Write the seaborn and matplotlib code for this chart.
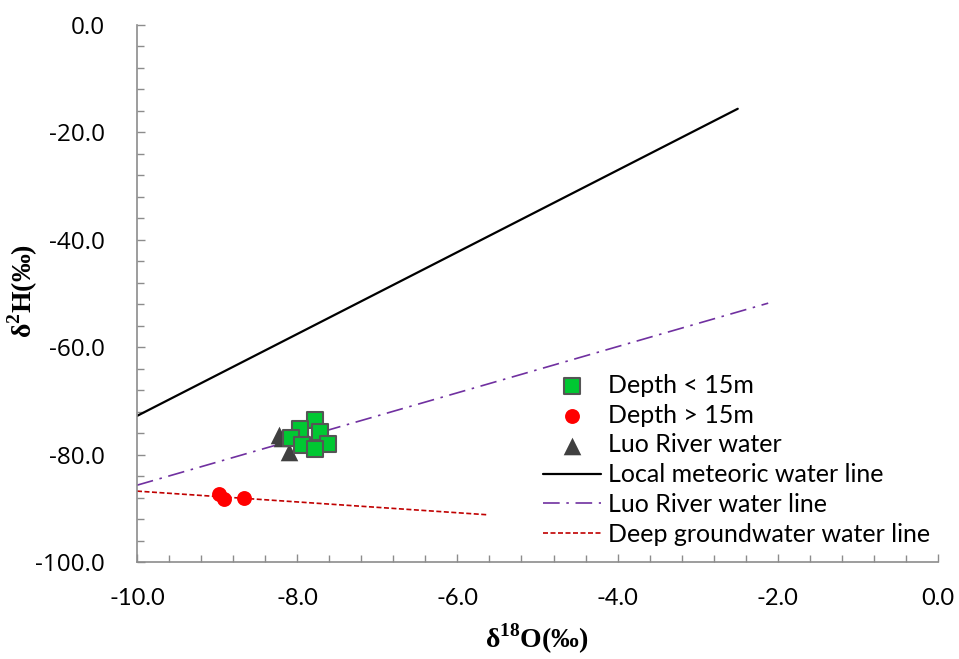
import numpy as np
import pandas as pd
import matplotlib
matplotlib.use("Agg")
import matplotlib.pyplot as plt
import seaborn as sns
from matplotlib.ticker import MultipleLocator, FormatStrFormatter

sns.set_theme(style="white")
plt.rcParams['mathtext.fontset'] = 'custom'
plt.rcParams['mathtext.rm'] = 'Liberation Serif:bold'
plt.rcParams['mathtext.bf'] = 'Liberation Serif:bold'
plt.rcParams['text.color'] = 'black'
plt.rcParams['xtick.labelcolor'] = 'black'
plt.rcParams['ytick.labelcolor'] = 'black'
plt.rcParams['axes.labelcolor'] = 'black'

# ---- data ----
shallow_o = [-7.78, -7.97, -7.72, -8.08, -7.94, -7.62, -7.78]
shallow_h = [-73.6, -75.2, -75.7, -76.9, -78.2, -78.1, -79.0]
deep_o = [-8.98, -8.91, -8.66]
deep_h = [-87.3, -88.3, -88.1]
river_o = [-8.23, -8.19, -8.10]
river_h = [-76.4, -77.0, -79.5]

lmwl_o = [-10.0, -2.5]
lmwl_h = [-72.8, -15.6]
lrwl_o = [-10.0, -2.12]
lrwl_h = [-85.7, -51.8]
dgwl_o = [-10.0, -5.63]
dgwl_h = [-86.8, -91.2]

x_ticks = [-10.0, -8.0, -6.0, -4.0, -2.0, 0.0]
y_ticks = [0.0, -20.0, -40.0, -60.0, -80.0, -100.0]

fig = plt.figure(figsize=(9.59, 6.59), dpi=100)
ax = fig.add_axes([137/959, 97/659, 801/959, 537/659])

sns.lineplot(x=lmwl_o, y=lmwl_h, ax=ax, color="black", lw=1.6,
             label="Local meteoric water line")
sns.lineplot(x=lrwl_o, y=lrwl_h, ax=ax, color="#7030A0", lw=1.2,
             dashes=False, label="Luo River water line", linestyle=(0, (10, 4, 1.5, 4)))
sns.lineplot(x=dgwl_o, y=dgwl_h, ax=ax, color="#C00000", lw=1.2,
             label="Deep groundwater water line", linestyle=(0, (3, 1.5)))

sns.scatterplot(x=shallow_o, y=shallow_h, ax=ax, marker="s", s=140,
                color="#00C832", edgecolor="#555555", linewidth=1.5,
                label="Depth < 15m", zorder=5)
sns.scatterplot(x=deep_o, y=deep_h, ax=ax, marker="o", s=115,
                color="#FF0000", edgecolor="#FF0000", linewidth=0,
                label="Depth > 15m", zorder=5)
sns.scatterplot(x=river_o, y=river_h, ax=ax, marker="^", s=160,
                color="#404040", edgecolor="#404040", linewidth=0,
                label="Luo River water", zorder=4)

ax.set_xlim(-10, 0)
ax.set_ylim(-100, 0)
ax.set_xticks(x_ticks)
ax.set_yticks(y_ticks)
ax.xaxis.set_major_formatter(FormatStrFormatter('%.1f'))
ax.yaxis.set_major_formatter(FormatStrFormatter('%.1f'))
ax.xaxis.set_minor_locator(MultipleLocator(0.4))
ax.yaxis.set_minor_locator(MultipleLocator(4))

for s in ['top', 'right']:
    ax.spines[s].set_visible(False)
for s in ['left', 'bottom']:
    ax.spines[s].set_color("#8c8c8c")
    ax.spines[s].set_linewidth(1.2)

ax.tick_params(axis='both', which='both', direction='in', color='#8c8c8c',
               bottom=True, left=True)
ax.tick_params(axis='both', which='major', length=6, width=1)
ax.tick_params(axis='both', which='minor', length=5, width=1)
ax.tick_params(axis='x', which='major', pad=19)
ax.tick_params(axis='y', which='major', pad=23)

for lab in ax.get_xticklabels():
    lab.set_fontfamily("Lato")
    lab.set_fontsize(17)
for lab in ax.get_yticklabels():
    lab.set_fontfamily("Open Sans")
    lab.set_fontsize(17.5)

ax.set_xlabel(r"δ$^{\mathbf{18}}$O(‰)", fontfamily="Liberation Serif",
              fontweight="bold", fontsize=20)
ax.set_ylabel(r"δ$^{\mathbf{2}}$H(‰)", fontfamily="Liberation Serif",
              fontweight="bold", fontsize=20)
ax.xaxis.set_label_coords(0.499, -0.112)
ax.yaxis.set_label_coords(-0.121, 0.505)

handles, labels = ax.get_legend_handles_labels()
order = ["Depth < 15m", "Depth > 15m", "Luo River water",
         "Local meteoric water line", "Luo River water line",
         "Deep groundwater water line"]
hmap = dict(zip(labels, handles))
leg = ax.legend([hmap[k] for k in order], order, loc="upper left",
                bbox_to_anchor=(543/959, 1 - 374/659), bbox_transform=fig.transFigure,
                frameon=False, prop={"family": "Lato", "size": 18},
                handlelength=2.3, handletextpad=0.32, labelspacing=0.27,
                borderpad=0, borderaxespad=0)
for t in leg.get_texts():
    t.set_color("black")

fig.savefig("out.png", dpi=100)
